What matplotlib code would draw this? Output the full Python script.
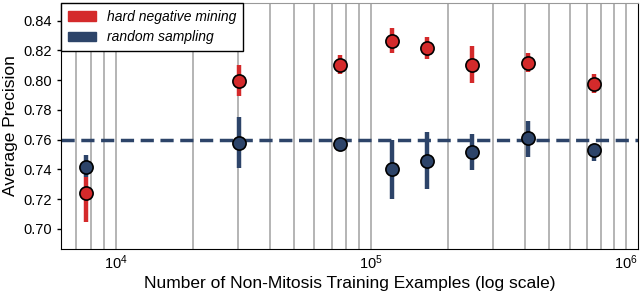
import matplotlib
matplotlib.use("Agg")
import matplotlib.pyplot as plt
import matplotlib.patches as mpatches
from matplotlib.ticker import LogLocator, NullFormatter

# data
n_examples = [7600, 30300, 75800, 120900, 165800, 248900, 414000, 751000]

hard_mean = [0.724, 0.7995, 0.8105, 0.8265, 0.8215, 0.8105, 0.8115, 0.7973]
hard_low = [0.7045, 0.7894, 0.804, 0.818, 0.8143, 0.798, 0.8054, 0.7912]
hard_high = [0.7350, 0.8103, 0.817, 0.8348, 0.8288, 0.8227, 0.8182, 0.804]

rand_mean = [0.7418, 0.7576, 0.7572, 0.7400, 0.7456, 0.7515, 0.7611, 0.7530]
rand_low = [0.7350, 0.7411, 0.7555, 0.7202, 0.7265, 0.7393, 0.7485, 0.7454]
rand_high = [0.7494, 0.7751, 0.7600, 0.7600, 0.7649, 0.7640, 0.7723, 0.7570]

baseline = 0.76

red = "#d42a2b"
navy = "#2d4469"

plt.rcParams["font.family"] = ["Liberation Sans", "DejaVu Sans"]

fig, ax = plt.subplots(figsize=(6.4, 2.91), dpi=100)
fig.subplots_adjust(left=0.095, right=0.997, top=0.99, bottom=0.145)

ax.set_xscale("log")
ax.set_xlim(6080, 1.114e6)
ax.set_ylim(0.6865, 0.852)

ax.xaxis.set_major_locator(LogLocator(base=10))
ax.xaxis.set_minor_locator(LogLocator(base=10, subs=range(2, 10)))
ax.xaxis.set_minor_formatter(NullFormatter())
ax.grid(True, axis="x", which="both", color="#a8a8a8", lw=1.2)
ax.set_axisbelow(True)

ax.axhline(baseline, color=navy, lw=2.5, ls=(0, (3.8, 1.9)), zorder=1)

for mean, low, high, col in [(hard_mean, hard_low, hard_high, red),
                             (rand_mean, rand_low, rand_high, navy)]:
    yerr = [[m - l for m, l in zip(mean, low)], [h - m for m, h in zip(mean, high)]]
    ax.errorbar(n_examples, mean, yerr=yerr, fmt="o", color=col, ecolor=col,
                elinewidth=3.2, capsize=0, ms=9.5, mfc=col, mec="black",
                mew=1.2, zorder=3)

ax.set_yticks([0.70, 0.72, 0.74, 0.76, 0.78, 0.80, 0.82, 0.84])
ax.tick_params(axis="y", labelsize=10.5, length=3, width=1)
ax.tick_params(axis="x", which="both", length=0, labelsize=10.5, pad=3)

ax.spines["top"].set_color("#999999")
for s in ["left", "bottom", "right"]:
    ax.spines[s].set_color("black")

ax.set_xlabel("Number of Non-Mitosis Training Examples (log scale)", fontsize=12.5, labelpad=3)
ax.set_ylabel("Average Precision", fontsize=12.5)

handles = [mpatches.Patch(color=red, label="hard negative mining"),
           mpatches.Patch(color=navy, label="random sampling")]
leg = ax.legend(handles=handles, loc="upper left", fancybox=False,
                edgecolor="black", framealpha=1, borderaxespad=0,
                prop={"style": "italic", "size": 10},
                handlelength=2.0, handleheight=0.65, labelspacing=0.45,
                borderpad=0.5)
leg.get_frame().set_linewidth(1.0)

fig.savefig("out.png", dpi=100)
